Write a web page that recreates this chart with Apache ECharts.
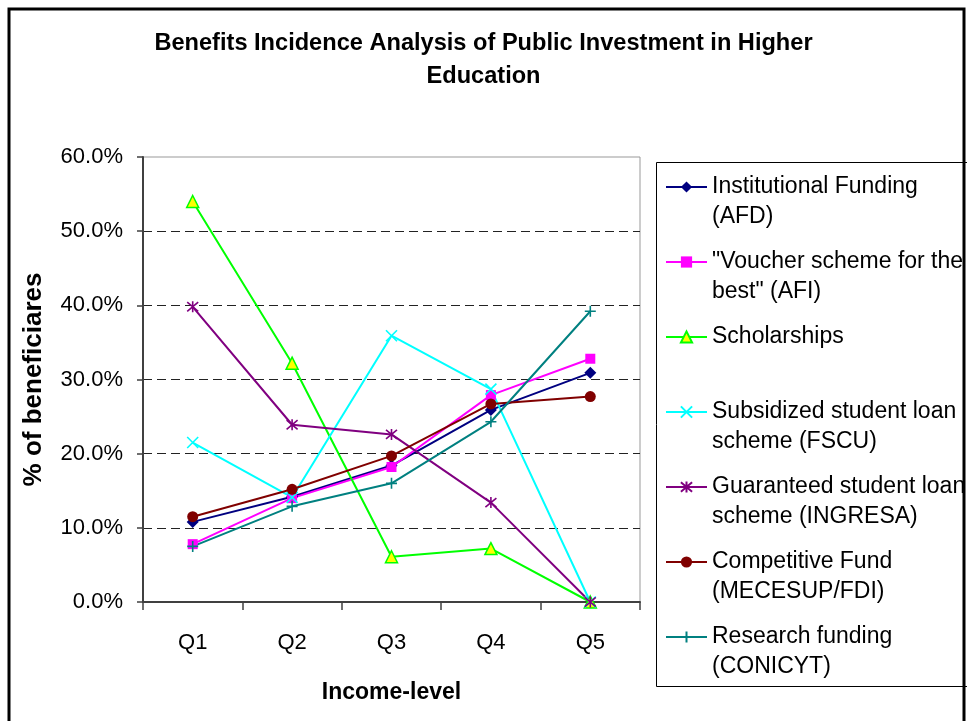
<!DOCTYPE html>
<html>
<head>
<meta charset="utf-8">
<script src="https://cdn.jsdelivr.net/npm/echarts@6/dist/echarts.min.js"></script>
<style>
  html, body { margin: 0; padding: 0; background: #fff; }
  #chart { width: 967px; height: 721px; }
</style>
</head>
<body>
<div id="chart"></div>
<script>
// income quintiles
var categories = ['Q1', 'Q2', 'Q3', 'Q4', 'Q5'];
var yTicks = [0, 10, 20, 30, 40, 50, 60];

// % of beneficiaries per programme
var afd = [10.8, 14.2, 18.4, 25.9, 30.9];
var afi = [7.8, 14.0, 18.2, 27.9, 32.8];
var scholarships = [54.0, 32.2, 6.1, 7.2, 0.0];
var fscu = [21.5, 14.1, 35.9, 28.7, 0.0];
var ingresa = [39.8, 23.9, 22.6, 13.4, 0.0];
var mecesup = [11.5, 15.2, 19.7, 26.7, 27.7];
var conicyt = [7.5, 12.9, 16.0, 24.3, 39.2];

var seriesNames = [
    'Institutional Funding\n(AFD)',
    '"Voucher scheme for the\nbest" (AFI)',
    'Scholarships\n ',
    'Subsidized student loan\nscheme (FSCU)',
    'Guaranteed student loan\nscheme (INGRESA)',
    'Competitive Fund\n(MECESUP/FDI)',
    'Research funding\n(CONICYT)'
];

var FONT = '"Liberation Sans", Arial, sans-serif';

function lineSeries(name, data, color, symbol, size, itemStyle) {
    return {
        name: name,
        type: 'line',
        data: data,
        symbol: symbol,
        symbolSize: size,
        lineStyle: { color: color, width: 2 },
        itemStyle: itemStyle || { color: color },
        emphasis: { disabled: true }
    };
}

var strokeMark = function (color) {
    return { color: color, borderColor: color, borderWidth: 1.6 };
};

var series = [
    lineSeries(seriesNames[0], afd, '#000080', 'diamond', 12),
    lineSeries(seriesNames[1], afi, '#ff00ff', 'rect', 10),
    lineSeries(seriesNames[2], scholarships, '#00ff00', 'triangle', 12,
        { color: '#ffff00', borderColor: '#00ff00', borderWidth: 1.5 }),
    lineSeries(seriesNames[3], fscu, '#00ffff', 'path://M0,0L10,10M10,0L0,10', 11, strokeMark('#00ffff')),
    lineSeries(seriesNames[4], ingresa, '#800080', 'path://M0,0L10,10M10,0L0,10M5,-1L5,11', 11, strokeMark('#800080')),
    lineSeries(seriesNames[5], mecesup, '#800000', 'circle', 11),
    lineSeries(seriesNames[6], conicyt, '#008080', 'path://M5,0L5,10M0,5L10,5', 11, strokeMark('#008080'))
];

var chart = echarts.init(document.getElementById('chart'));

chart.setOption({
    animation: false,
    backgroundColor: '#fff',
    textStyle: { fontFamily: FONT },
    title: {
        text: 'Benefits Incidence Analysis of Public Investment in Higher\nEducation',
        left: 'center',
        top: 27,
        padding: 0,
        textStyle: {
            fontFamily: FONT,
            fontSize: 23.6,
            fontWeight: 'bold',
            lineHeight: 33,
            color: '#000'
        }
    },
    graphic: [{
        // outer chart frame
        type: 'rect',
        shape: { x: 9, y: 9, width: 955, height: 800 },
        style: { fill: 'none', stroke: '#000', lineWidth: 3 },
        silent: true,
        z: -1
    }, {
        // legend frame
        type: 'rect',
        shape: { x: 656.5, y: 162.5, width: 330, height: 524 },
        style: { fill: 'none', stroke: '#000', lineWidth: 1 },
        silent: true,
        z: -1
    }],
    legend: {
        orient: 'vertical',
        left: 665,
        top: 142,
        padding: 0,
        itemGap: -15,
        itemWidth: 41,
        itemHeight: 14,
        data: seriesNames,
        // blank first line so the icon sits beside the first text line
        formatter: function (name) {
            return ' \n' + name;
        },
        textStyle: {
            fontFamily: FONT,
            fontSize: 23,
            lineHeight: 30,
            color: '#000'
        }
    },
    grid: {
        left: 143,
        top: 157,
        right: 327,
        bottom: 119,
        show: true,
        borderColor: '#999',
        borderWidth: 1
    },
    xAxis: {
        type: 'category',
        data: categories,
        boundaryGap: true,
        name: 'Income-level',
        nameLocation: 'middle',
        nameGap: 79,
        nameTextStyle: { fontFamily: FONT, fontSize: 23, fontWeight: 'bold', color: '#000' },
        axisLine: { lineStyle: { color: '#404040', width: 2 } },
        axisTick: { show: true, length: 8, lineStyle: { color: '#404040', width: 1.5 } },
        axisLabel: { fontFamily: FONT, fontSize: 22, color: '#000', margin: 30 },
        splitLine: { show: false }
    },
    yAxis: {
        type: 'value',
        min: yTicks[0],
        max: yTicks[yTicks.length - 1],
        interval: 10,
        name: '% of beneficiares',
        nameLocation: 'middle',
        nameGap: 96,
        nameTextStyle: { fontFamily: FONT, fontSize: 26, fontWeight: 'bold', color: '#000' },
        axisLine: { show: true, lineStyle: { color: '#404040', width: 2 } },
        axisTick: { show: true, length: 6, lineStyle: { color: '#404040', width: 1.5 } },
        axisLabel: {
            fontFamily: FONT,
            fontSize: 22,
            color: '#000',
            margin: 20,
            formatter: function (v) { return v.toFixed(1) + '%'; }
        },
        splitLine: {
            show: true,
            showMinLine: false,
            showMaxLine: false,
            lineStyle: { color: '#222', type: [9, 5], width: 1 }
        }
    },
    series: series
});
</script>
</body>
</html>
